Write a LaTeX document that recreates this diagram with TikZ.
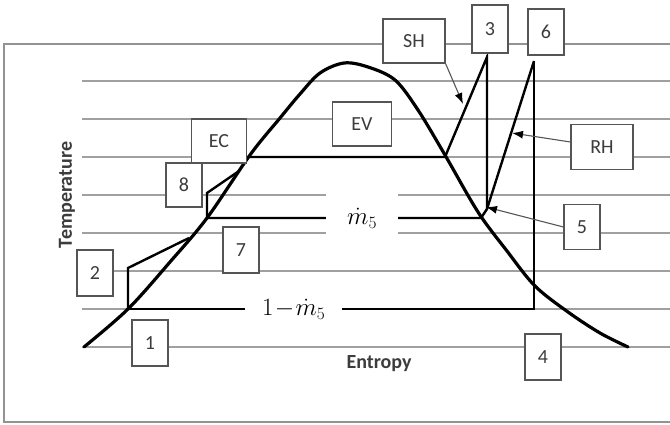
\documentclass[tikz,border=0pt]{standalone}
\usepackage[no-math]{fontspec}
\setmainfont{Carlito}
\usepackage{amsmath,amssymb}
\usepackage{xcolor}
\usepackage{tikz}
\usetikzlibrary{arrows.meta}

\definecolor{ink}{RGB}{60,60,60}
\definecolor{rule}{RGB}{160,160,160}
\definecolor{edge}{RGB}{85,85,85}

\begin{document}
\begin{tikzpicture}[x=1pt, y=-1pt, font=\fontsize{20}{24}\selectfont]
    \tikzstyle{grid} = [draw=rule, line width=1.4pt]
    \tikzstyle{dome} = [draw, line width=3.2pt, line cap=round]
    \tikzstyle{rankine} = [draw, line width=2.4pt]
    \tikzstyle{point} = [rectangle, draw=edge, line width=1.1pt, fill=white, text=ink, minimum width=36pt, minimum height=46pt, inner sep=0pt]
    \tikzstyle{unit} = [point, minimum height=44pt]
    \tikzstyle{flow} = [fill=white, inner sep=0pt, font=\fontsize{27}{30}\selectfont]
    \tikzstyle{axis} = [text=ink, font=\fontsize{20}{24}\selectfont\bfseries]
    \tikzstyle{line} = [draw=edge, line width=1.1pt, -{Latex[length=11pt, width=8pt, color=black]}]

    \useasboundingbox (0,0) rectangle (670,424);
    \draw[draw=gray!85, line width=1.6pt] (4,44) rectangle (690,422);
    \foreach \y in {81,119,...,347}
        \draw[grid] (82,\y) -- (690,\y);

    \draw[dome] plot[smooth, tension=0.55] coordinates {(84,347) (128,309) (170,262) (207,218) (250,155) (280,118) (300,94) (320,73) (344,63) (368,67) (395,80) (418,110) (445,155) (478,212) (507,251) (535,286) (568,312) (600,333) (628,347)};

    \coordinate (s1) at (128,309);
    \coordinate (s2) at (128,268);
    \coordinate (s2b) at (189,238);
    \coordinate (s7) at (207,218);
    \coordinate (s8) at (207,193);
    \coordinate (s8b) at (239,171);
    \coordinate (sf) at (248,157);
    \coordinate (sg) at (445,157);
    \coordinate (s3) at (487,57);
    \coordinate (s5) at (487,209);
    \coordinate (s5b) at (481,218);
    \coordinate (s6) at (534,61);
    \coordinate (s4) at (534,309);

    \draw[rankine] (s1) -- (s2) -- (s2b);
    \draw[rankine] (s7) -- (s8) -- (s8b);
    \draw[rankine] (s6) -- (s5);
    \draw[rankine] (sf) -- (sg) -- (s3) -- (s5) -- (s5b) -- node[flow, pos=0.434, minimum width=72pt, minimum height=50pt] (m5) {$\dot{m}_5$} (s7);
    \draw[rankine] (s6) -- (s4) -- node[flow, pos=0.592, minimum width=97pt, minimum height=40pt] (m1) {$1\!-\!\dot{m}_5$} (s1);

    \node[point] (n1) at (150,343) {1};
    \node[point] (n2) at (95,273) {2};
    \node[point, minimum height=48pt] (n3) at (490,29) {3};
    \node[point] (n4) at (543,357) {4};
    \node[point, minimum height=45pt] (n5) at (582,227) {5};
    \node[point] (n6) at (546,32) {6};
    \node[point] (n7) at (241,250) {7};
    \node[point, minimum height=44pt] (n8) at (184,185) {8};
    \node[unit, minimum width=55pt] (ec) at (219,141) {EC};
    \node[unit, minimum width=59pt] (ev) at (362,124) {EV};
    \node[unit, minimum width=62pt] (sh) at (414,41) {SH};
    \node[unit, minimum width=62pt, minimum height=45pt] (rh) at (602,147) {RH};

    \node[axis, rotate=90] (temp) at (67,195) {Temperature};
    \node[axis] (entr) at (379,364) {Entropy};

    \coordinate (tsh) at (463,104);
    \coordinate (trh) at (512,133);
    \coordinate (t5) at (486,207);
    \path[line] (sh.south east) -- (tsh);
    \path[line] ([yshift=5pt]rh.west) -- (trh);
    \path[line] (n5.west) -- (t5);
\end{tikzpicture}
\end{document}
